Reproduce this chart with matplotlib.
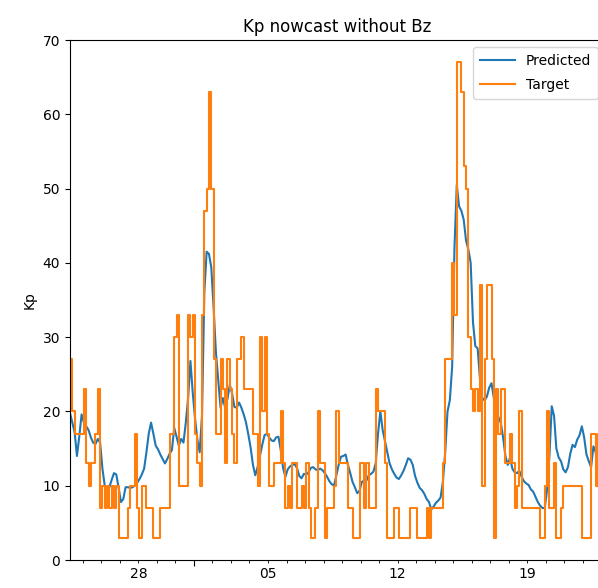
"""
Kp nowcast without Bz: predicted vs target Kp (x10) over roughly one month.
Values read off the reference figure at 3-hour resolution.
"""
import pandas as pd
import matplotlib
matplotlib.use("Agg")
import matplotlib.pyplot as plt
import matplotlib.dates as mdates
from matplotlib.ticker import FixedLocator, FuncFormatter

START = "2015-09-24 07:30"
STEP = "3h"

predicted = [
    19.8, 18.5, 17.2, 14.0, 16.6, 19.6, 18.5, 18.0, 17.5, 16.5,
    15.8, 15.6, 16.3, 15.8, 12.3, 10.0, 9.3, 9.8, 10.8, 11.7,
    11.5, 9.7, 7.8, 8.2, 9.8, 9.8, 9.7, 9.8, 10.0, 10.4,
    10.9, 11.5, 12.3, 14.5, 17.0, 18.5, 17.0, 15.4, 14.9, 14.2,
    13.6, 13.0, 13.6, 14.3, 14.8, 17.8, 16.6, 15.4, 16.3, 15.8,
    18.5, 21.8, 26.8, 22.5, 19.0, 16.2, 14.5, 19.5, 36.0, 41.5,
    41.2, 39.4, 34.0, 28.0, 24.3, 20.5, 21.8, 20.5, 21.7, 23.6,
    22.4, 20.6, 20.5, 21.2, 20.5, 19.6, 18.5, 16.9, 15.1, 12.8,
    11.4, 12.5, 14.0, 15.5, 16.8, 17.0, 16.5, 16.1, 16.0, 16.5,
    16.6, 14.8, 12.4, 11.2, 12.2, 12.6, 12.8, 12.9, 12.4, 11.3,
    11.0, 11.6, 11.5, 11.8, 12.4, 12.5, 12.2, 12.1, 12.3, 12.1,
    11.7, 11.2, 10.6, 10.2, 10.0, 11.4, 12.8, 13.9, 14.0, 14.2,
    12.8, 11.7, 10.5, 9.8, 9.0, 9.3, 10.5, 10.7, 10.7, 11.4,
    11.6, 11.9, 13.0, 17.0, 20.0, 17.5, 16.0, 14.5, 13.0, 12.2,
    11.6, 11.1, 10.9, 11.4, 12.0, 12.8, 13.7, 13.5, 12.8, 11.3,
    10.4, 9.7, 9.4, 8.9, 8.2, 7.8, 6.8, 7.2, 7.7, 8.0,
    8.4, 10.5, 14.5, 20.0, 21.5, 26.0, 42.0, 50.5, 47.6, 47.0,
    45.8, 43.0, 41.8, 40.0, 32.0, 28.8, 28.5, 24.5, 21.8, 21.5,
    22.0, 23.2, 23.8, 21.8, 20.2, 19.2, 18.5, 16.5, 14.0, 12.8,
    13.8, 12.3, 11.8, 11.7, 12.0, 11.2, 10.6, 10.3, 10.1, 9.5,
    9.2, 8.5, 7.8, 7.3, 7.0, 7.0, 9.5, 14.0, 20.7, 19.4,
    15.0, 13.8, 13.3, 12.2, 11.8, 12.5, 14.3, 15.5, 15.2, 16.2,
    16.8, 18.0, 16.5, 14.2, 13.3, 12.5, 15.3, 14.5, 11.2, 9.0,
    7.8, 8.0,
]

target = [
    27, 20, 17, 17, 17, 17, 23, 13, 10, 13,
    13, 17, 23, 7, 10, 7, 10, 7, 10, 7,
    10, 3, 3, 3, 3, 7, 10, 10, 17, 7,
    3, 10, 10, 7, 7, 7, 3, 3, 3, 7,
    7, 7, 7, 17, 17, 30, 33, 10, 10, 10,
    10, 33, 30, 33, 17, 13, 10, 33, 47, 50,
    63, 50, 27, 17, 17, 27, 23, 13, 27, 23,
    17, 13, 27, 27, 30, 23, 23, 23, 23, 17,
    17, 10, 30, 20, 30, 17, 10, 10, 13, 13,
    13, 20, 13, 7, 10, 7, 13, 13, 7, 7,
    10, 7, 13, 7, 3, 3, 7, 20, 13, 13,
    3, 7, 7, 7, 10, 20, 13, 13, 13, 13,
    7, 7, 3, 3, 3, 13, 13, 7, 13, 7,
    7, 7, 23, 20, 20, 20, 13, 3, 3, 3,
    7, 7, 3, 3, 3, 3, 3, 7, 7, 7,
    3, 3, 3, 3, 7, 3, 7, 7, 7, 7,
    7, 13, 27, 27, 27, 40, 33, 67, 67, 63,
    53, 50, 30, 23, 20, 23, 20, 37, 10, 27,
    37, 37, 27, 3, 23, 17, 23, 23, 13, 13,
    17, 13, 7, 10, 20, 7, 7, 7, 7, 7,
    7, 7, 7, 3, 3, 10, 20, 7, 7, 13,
    3, 3, 7, 10, 10, 10, 10, 10, 10, 10,
    10, 3, 3, 3, 3, 17, 17, 10, 17, 10,
    13, 10,
]

week_days = ["2015-09-28", "2015-10-05", "2015-10-12", "2015-10-19"]
week_labels = ["28", "05", "12", "19"]
month_starts = ["2015-10-01"]
first_day, last_day = "2015-09-25", "2015-10-23"


def main():
    times = pd.date_range(START, periods=len(predicted), freq=STEP)

    fig = plt.figure(figsize=(5.98, 5.88), dpi=100)
    # axes run slightly past the right edge, as in the cropped reference
    ax = fig.add_axes([70 / 598, 28 / 588, 535 / 598, 520 / 588])

    ax.plot(times, predicted, label="Predicted")
    ax.plot(times, target, label="Target", drawstyle="steps-post")

    ax.set_xlim(times[0], times[-1])
    ax.set_ylim(0, 70)
    ax.set_title("Kp nowcast without Bz")
    ax.set_ylabel("Kp")
    ax.legend(loc="upper right", handlelength=2.5, labelspacing=0.75, borderpad=0.5)

    # pandas-like date ticks: month start as major, daily minor, weekly labels
    major_pos = mdates.date2num(pd.to_datetime(month_starts))
    minor_pos = mdates.date2num(pd.date_range(first_day, last_day, freq="D"))
    labels = dict(zip(mdates.date2num(pd.to_datetime(week_days)).round(3), week_labels))

    ax.xaxis.set_major_locator(FixedLocator(major_pos))
    ax.xaxis.set_major_formatter(FuncFormatter(lambda v, p: ""))
    ax.xaxis.set_minor_locator(FixedLocator(minor_pos))
    ax.xaxis.set_minor_formatter(FuncFormatter(lambda v, p: labels.get(round(v, 3), "")))
    ax.tick_params(axis="x", which="major", length=4)
    ax.tick_params(axis="x", which="minor", length=2)

    fig.savefig("out.png", dpi=100)
    plt.close(fig)


if __name__ == "__main__":
    main()
